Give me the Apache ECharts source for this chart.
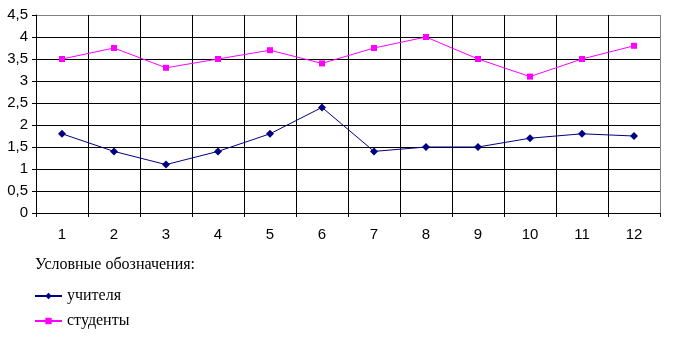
<!DOCTYPE html>
<html>
<head>
<meta charset="utf-8">
<script src="https://cdn.jsdelivr.net/npm/echarts@6/dist/echarts.min.js"></script>
<style>
  html, body { margin: 0; padding: 0; background: #fff; }
  #chart { width: 684px; height: 353px; }
</style>
</head>
<body>
<div id="chart"></div>
<script>
// данные графика
const months = ['1', '2', '3', '4', '5', '6', '7', '8', '9', '10', '11', '12']
const teachers = [1.8, 1.4, 1.1, 1.4, 1.8, 2.4, 1.4, 1.5, 1.5, 1.7, 1.8, 1.75]
const students = [3.5, 3.75, 3.3, 3.5, 3.7, 3.4, 3.75, 4.0, 3.5, 3.1, 3.5, 3.8]
const seriesNames = ['учителя', 'студенты']
const legendTitle = 'Условные обозначения:'

const chart = echarts.init(document.getElementById('chart'))

// линии сетки: верхняя серая, остальные чёрные
const yLineColors = ['#000', '#000', '#000', '#000', '#000', '#000', '#000', '#000', '#000', '#808080']
const xLineColors = ['#000', '#000', '#000', '#000', '#000', '#000', '#000', '#000', '#000', '#000', '#000', '#000', '#808080']

const options = {
  animation: false,
  backgroundColor: '#fff',
  title: {
    text: legendTitle,
    left: 35,
    top: 257,
    padding: 0,
    textStyle: {
      fontFamily: 'Liberation Serif',
      fontWeight: 'normal',
      fontSize: 16,
      color: '#000'
    }
  },
  legend: {
    orient: 'vertical',
    left: 34,
    top: 288,
    padding: 0,
    itemWidth: 27,
    itemHeight: 8,
    itemGap: 9,
    data: seriesNames,
    textStyle: {
      fontFamily: 'Liberation Serif',
      fontSize: 16,
      color: '#000'
    }
  },
  grid: {
    left: 36,
    right: 24,
    top: 15,
    bottom: 140,
    containLabel: false
  },
  xAxis: {
    type: 'category',
    data: months,
    boundaryGap: true,
    axisLine: { lineStyle: { color: '#000', width: 1 } },
    axisTick: { show: true, length: 4, lineStyle: { color: '#000' } },
    axisLabel: {
      color: '#000',
      fontFamily: 'Liberation Sans',
      fontSize: 15,
      margin: 14
    },
    splitLine: { show: true, lineStyle: { color: xLineColors, width: 1 } }
  },
  yAxis: {
    type: 'value',
    min: 0,
    max: 4.5,
    interval: 0.5,
    axisLine: { show: true, lineStyle: { color: '#000', width: 1 } },
    axisTick: { show: true, length: 4, lineStyle: { color: '#000' } },
    axisLabel: {
      color: '#000',
      fontFamily: 'Liberation Sans',
      fontSize: 15,
      margin: 8,
      formatter: (v) => String(v).replace('.', ',')
    },
    splitLine: { show: true, lineStyle: { color: yLineColors, width: 1 } }
  },
  series: [
    {
      name: seriesNames[0],
      type: 'line',
      data: teachers,
      color: '#000080',
      symbol: 'diamond',
      symbolSize: 8,
      lineStyle: { width: 1, color: '#000080' },
      itemStyle: { color: '#000080' }
    },
    {
      name: seriesNames[1],
      type: 'line',
      data: students,
      color: '#ff00ff',
      symbol: 'rect',
      symbolSize: 6,
      lineStyle: { width: 1, color: '#ff00ff' },
      itemStyle: { color: '#ff00ff' }
    }
  ]
}

chart.setOption(options)
</script>
</body>
</html>
